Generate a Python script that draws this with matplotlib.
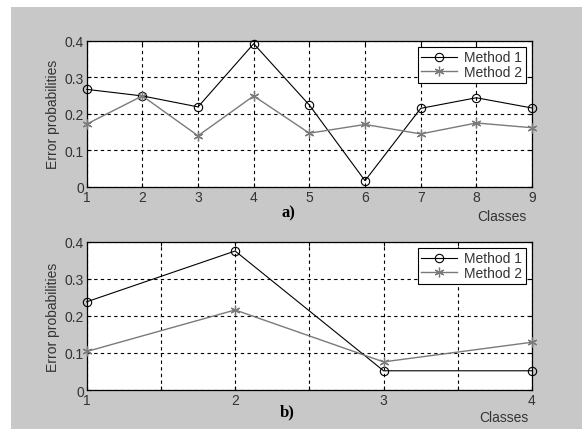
import matplotlib.pyplot as plt
import numpy as np

# data
classes_a = [1, 2, 3, 4, 5, 6, 7, 8, 9]
method1_a = [0.267, 0.249, 0.219, 0.392, 0.224, 0.017, 0.215, 0.244, 0.216]
method2_a = [0.172, 0.249, 0.140, 0.249, 0.147, 0.171, 0.145, 0.175, 0.162]

classes_b = [1, 2, 3, 4]
method1_b = [0.238, 0.375, 0.052, 0.052]
method2_b = [0.104, 0.216, 0.076, 0.129]

yticks = [0, 0.1, 0.2, 0.3, 0.4]
ytick_labels = ['0', '0.1', '0.2', '0.3', '0.4']

plt.rcParams['font.family'] = ['Liberation Sans', 'DejaVu Sans']

fig = plt.figure(figsize=(5.82, 4.35), dpi=100, facecolor='white')

# grey window background
bg = fig.add_axes([11 / 582, 5 / 435, 571 / 582, 422 / 435], zorder=-1)
bg.set_facecolor('#c8c8c8')
bg.set_xticks([])
bg.set_yticks([])
for s in bg.spines.values():
    s.set_visible(False)


def style_axes(ax, xs, xt):
    ax.set_facecolor('white')
    ax.set_xlim(xs[0], xs[-1])
    ax.set_ylim(0, 0.4)
    ax.set_xticks(xt)
    ax.set_xticklabels([str(int(t)) if t == int(t) else '' for t in xt], fontsize=10)
    ax.set_yticks(yticks)
    ax.set_yticklabels(ytick_labels, fontsize=10)
    ax.tick_params(direction='in', top=True, right=True, length=3, width=0.8, pad=2,
                   labelcolor='#333333')
    ax.grid(True, color='black', linestyle=(0, (3, 3)), linewidth=0.8)
    ax.set_ylabel('Error probabilities', fontsize=10, labelpad=3, color='#333333')
    for s in ax.spines.values():
        s.set_linewidth(0.9)


def draw(ax, xs, m1, m2):
    ax.plot(xs, m1, '-o', color='black', linewidth=0.8, markersize=6,
            markerfacecolor='none', markeredgewidth=0.8, label='Method 1', clip_on=False, zorder=3)
    ax.plot(xs, m2, '-', marker=(6, 2, 0), color='#7a7a7a', linewidth=1.0, markersize=7,
            markeredgewidth=0.9, label='Method 2', clip_on=False, zorder=3)
    leg = ax.legend(loc='upper right', fontsize=10, fancybox=False, framealpha=1,
                    edgecolor='black', borderpad=0.25, labelspacing=0.05,
                    handlelength=2.6, handletextpad=0.5, borderaxespad=0.45)
    leg.get_frame().set_linewidth(0.8)
    for t in leg.get_texts():
        t.set_color('#333333')


ax1 = fig.add_axes([86.7 / 582, 0.568, 445.3 / 582, 0.336])
style_axes(ax1, classes_a, classes_a)
draw(ax1, classes_a, method1_a, method2_a)
ax1.text(0.454, -0.171, 'a)', transform=ax1.transAxes, ha='center', va='center',
         fontsize=12, fontweight='bold', family='Liberation Serif')
ax1.text(0.933, -0.198, 'Classes', transform=ax1.transAxes, ha='center', va='center',
         fontsize=10, color='#333333')

ax2 = fig.add_axes([86.7 / 582, 0.101, 445.3 / 582, 0.341])
style_axes(ax2, classes_b, np.arange(1, 4.01, 0.5))
draw(ax2, classes_b, method1_b, method2_b)
ax2.text(0.45, -0.142, 'b)', transform=ax2.transAxes, ha='center', va='center',
         fontsize=12, fontweight='bold', family='Liberation Serif')
ax2.text(0.937, -0.182, 'Classes', transform=ax2.transAxes, ha='center', va='center',
         fontsize=10, color='#333333')

fig.savefig('out.png', dpi=100, facecolor='white')
